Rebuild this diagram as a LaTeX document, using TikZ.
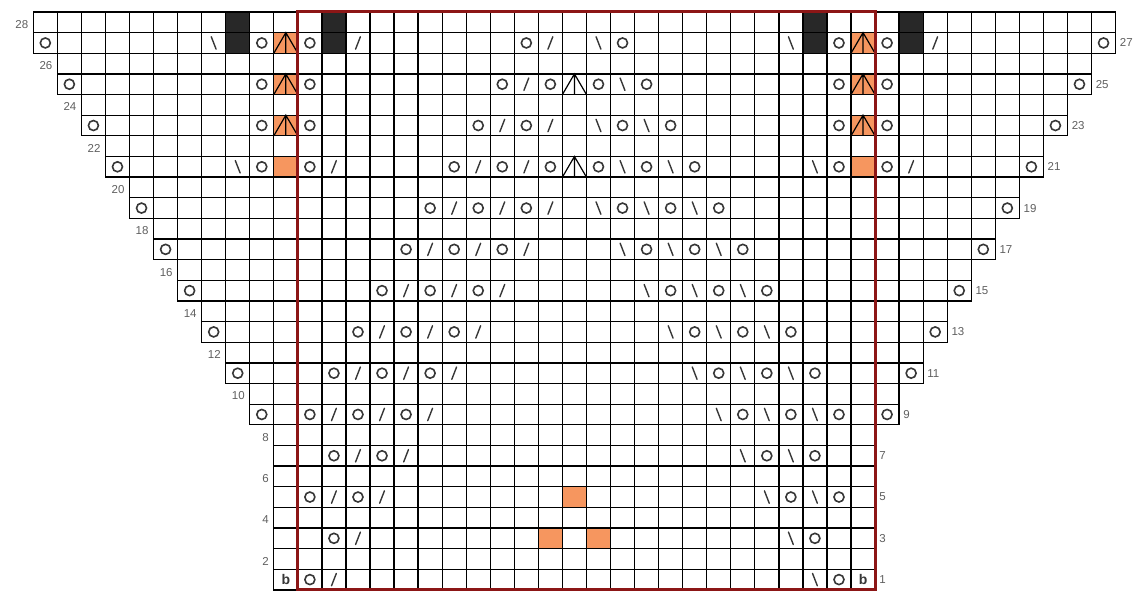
\documentclass[tikz,border=0pt]{standalone}
\usepackage{fontspec}
\setmainfont{Liberation Sans}
\definecolor{boxred}{RGB}{140,22,22}
\definecolor{knitorange}{RGB}{246,150,95}
\definecolor{knitblack}{RGB}{40,40,40}
\definecolor{symgray}{RGB}{55,55,55}
\definecolor{labelgray}{RGB}{95,95,95}
\begin{document}
\begin{tikzpicture}[x=24.05pt,y=20.64pt,
  gridline/.style={black,line width=1.3pt},
  yo/.style={draw=symgray,line width=1.6pt},
  dec/.style={symgray,line width=1.4pt,line cap=round},
  cdd/.style={black,line width=1.2pt},
  rowlab/.style={font=\fontsize{11.5}{11.5}\selectfont,text=labelgray,inner sep=0pt},
  bstitch/.style={font=\bfseries\fontsize{14}{14}\selectfont,text=symgray,inner sep=0pt},
  orangecell/.style={fill=knitorange},
  blackcell/.style={fill=knitblack}]
\useasboundingbox (-0.8846,0.399) rectangle (46.350,29.0814);
% fills
\foreach \c/\r in {11/27,11/25,11/23,11/21,35/27,35/25,35/23,35/21,23/5,22/3,24/3}
  {\fill[orangecell] (\c-0.5,\r-0.5) rectangle (\c+0.5,\r+0.5);}
\foreach \c in {9,13,33,37}
  {\fill[blackcell] (\c-0.5,26.5) rectangle (\c+0.5,28.5);}
% grid
\foreach \r in {1,...,28}{
  \pgfmathtruncatemacro\m{ceil(\r/2)}
  \pgfmathtruncatemacro\s{min(11,15-\m)}
  \pgfmathtruncatemacro\e{46-\s}
  \draw[gridline] (\s-0.5,\r-0.5) rectangle (\e+0.5,\r+0.5);
  \foreach \c in {\s,...,\e}{\draw[gridline] (\c+0.5,\r-0.5) -- (\c+0.5,\r+0.5);}
}
% row labels
\foreach \r in {2,4,...,28}{
  \pgfmathtruncatemacro\m{ceil(\r/2)}
  \pgfmathtruncatemacro\s{min(11,15-\m)}
  \node[rowlab,anchor=east] (lab\r) at (\s-0.5-0.2,\r-0.1) {\r};
}
\foreach \r in {1,3,...,27}{
  \pgfmathtruncatemacro\m{ceil(\r/2)}
  \pgfmathtruncatemacro\s{min(11,15-\m)}
  \pgfmathtruncatemacro\e{46-\s}
  \node[rowlab,anchor=west] (lab\r) at (\e+0.5+0.17,\r) {\r};
}
% yarn overs
\foreach \r/\cs in {27/{1,10,12,21,25,34,36,45},25/{2,10,12,20,22,24,26,34,36,44},
  23/{3,10,12,19,21,25,27,34,36,43},21/{4,10,12,18,20,22,24,26,28,34,36,42},
  19/{5,17,19,21,25,27,29,41},17/{6,16,18,20,26,28,30,40},15/{7,15,17,19,27,29,31,39},
  13/{8,14,16,18,28,30,32,38},11/{9,13,15,17,29,31,33,37},9/{10,12,14,16,30,32,34,36},
  7/{13,15,31,33},5/{12,14,32,34},3/{13,33},1/{12,34}}
  {\foreach \c in \cs {\draw[yo] (\c,\r) circle[radius=5pt];}}
% right-leaning decreases
\foreach \r/\cs in {27/{14,22,38},25/{21},23/{20,22},21/{13,19,21,37},19/{18,20,22},
  17/{17,19,21},15/{16,18,20},13/{15,17,19},11/{14,16,18},9/{13,15,17},7/{14,16},
  5/{13,15},3/{14},1/{13}}
  {\foreach \c in \cs {\draw[dec] (\c-0.1,\r-0.3) -- (\c+0.1,\r+0.3);}}
% left-leaning decreases
\foreach \r/\cs in {27/{8,24,32},25/{25},23/{24,26},21/{9,25,27,33},19/{24,26,28},
  17/{25,27,29},15/{26,28,30},13/{27,29,31},11/{28,30,32},9/{29,31,33},7/{30,32},
  5/{31,33},3/{32},1/{33}}
  {\foreach \c in \cs {\draw[dec] (\c-0.1,\r+0.3) -- (\c+0.1,\r-0.3);}}
% central double decreases
\foreach \c/\r in {11/27,35/27,11/25,23/25,35/25,11/23,35/23,23/21}
  {\draw[cdd] (\c-0.5,\r-0.5) -- (\c,\r+0.5) -- (\c+0.5,\r-0.5) (\c,\r+0.5) -- (\c,\r-0.5);}
% b stitches
\node[bstitch] (bL) at (11,1) {b};
\node[bstitch] (bR) at (35,1) {b};
% repeat box
\draw[boxred,line width=3pt] (11.5,0.5) rectangle (35.5,28.5);
\end{tikzpicture}
\end{document}
